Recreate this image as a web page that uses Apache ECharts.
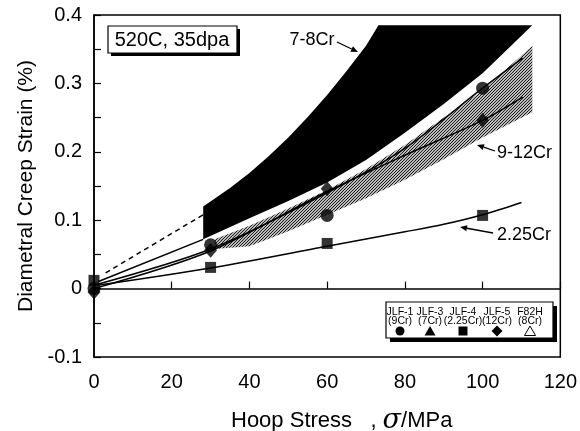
<!DOCTYPE html>
<html>
<head>
<meta charset="utf-8">
<script src="https://cdn.jsdelivr.net/npm/echarts@6/dist/echarts.min.js"></script>
<style>
  html, body { margin: 0; padding: 0; background: #fff; }
  #chart { width: 580px; height: 431px; }
</style>
</head>
<body>
<div id="chart"></div>
<script>
// Axis ranges and ticks
const xTicks = [0, 20, 40, 60, 80, 100, 120];
const yTicks = [-0.1, 0, 0.1, 0.2, 0.3, 0.4];

// Measured creep strain (%) vs hoop stress (MPa)
const jlf1_9Cr   = [[0, 0.0], [30, 0.064], [60, 0.107], [100, 0.293]];
const jlf5_12Cr  = [[0, -0.005], [30, 0.056], [60, 0.146], [100, 0.246]];
const jlf4_225Cr = [[0, 0.012], [30, 0.031], [60, 0.066], [100, 0.107]];

// Fitted trend curves
const fit9Cr   = [[0, 0.005], [30, 0.058], [60, 0.14], [80, 0.205], [100, 0.293], [110.3, 0.337]];
const fit12Cr  = [[0, 0.0], [30, 0.055], [60, 0.142], [80, 0.195], [100, 0.246], [110.3, 0.28]];
const fit225Cr = [[0, 0.004], [30, 0.03], [60, 0.062], [80, 0.083], [90, 0.094], [100, 0.108], [110, 0.126]];
const lead78Solid  = [[1, 0.01], [28.1, 0.072]];
const lead78Dashed = [[3, 0.023], [28.1, 0.108]];

// 7-8Cr scatter band (solid black)
const band78Upper = [[28.1, 0.12], [35, 0.147], [40, 0.169], [45, 0.194], [50, 0.221], [55, 0.251],
                     [60, 0.283], [65, 0.318], [70, 0.355], [73.2, 0.385], [112.8, 0.385]];
const band78Lower = [[28.1, 0.072], [40, 0.103], [50, 0.128], [60, 0.155], [70, 0.188],
                     [80, 0.228], [90, 0.27], [100, 0.315], [112.8, 0.385]];

// 9-12Cr scatter band (hatched)
const band912Upper = [[31, 0.072], [40, 0.092], [50, 0.117], [60, 0.144], [70, 0.175],
                      [80, 0.21], [90, 0.25], [100, 0.29], [112.8, 0.355]];
const band912Lower = [[31, 0.058], [40, 0.062], [50, 0.084], [60, 0.108], [70, 0.132],
                      [80, 0.159], [90, 0.189], [100, 0.221], [112.8, 0.258]];

// Legend entries
const legendNames  = ['JLF-1', 'JLF-3', 'JLF-4', 'JLF-5', 'F82H'];
const legendAlloys = ['(9Cr)', '(7Cr)', '(2.25Cr)', '(12Cr)', '(8Cr)'];

const FONT = '"Liberation Sans", Arial, Helvetica, sans-serif';

// Hatch texture for the 9-12Cr band
function makeHatch() {
  const c = document.createElement('canvas');
  c.width = 3; c.height = 3;
  const g = c.getContext('2d');
  g.fillStyle = '#fff';
  g.fillRect(0, 0, 3, 3);
  g.strokeStyle = '#111';
  g.lineWidth = 1.1;
  g.beginPath();
  g.moveTo(-1, 4); g.lineTo(4, -1);
  g.moveTo(-1, 1); g.lineTo(1, -1);
  g.moveTo(2, 4); g.lineTo(4, 2);
  g.stroke();
  return c;
}
const hatchPattern = { image: makeHatch(), repeat: 'repeat' };

function bandRender(upper, lower, fill) {
  return function (params, api) {
    const pts = upper.map(p => api.coord(p))
      .concat(lower.slice().reverse().map(p => api.coord(p)));
    return {
      type: 'polygon',
      shape: { points: pts },
      style: { fill: fill, stroke: null }
    };
  };
}

function lineSeries(data, dashed) {
  return {
    type: 'line', data: data, smooth: 0.3, symbol: 'none', silent: true,
    lineStyle: { color: '#000', width: 1.5, type: dashed ? [5, 4] : 'solid' },
    z: 3
  };
}

function arrow(tail, tip) {
  const dx = tip[0] - tail[0], dy = tip[1] - tail[1];
  const len = Math.hypot(dx, dy), ux = dx / len, uy = dy / len;
  const hl = 7, hw = 3;
  const bx = tip[0] - ux * hl, by = tip[1] - uy * hl;
  return [
    { type: 'line', shape: { x1: tail[0], y1: tail[1], x2: bx, y2: by },
      style: { stroke: '#000', lineWidth: 1.3 }, z: 20 },
    { type: 'polygon', shape: { points: [tip, [bx - uy * hw, by + ux * hw], [bx + uy * hw, by - ux * hw]] },
      style: { fill: '#000' }, z: 20 }
  ];
}

// Legend box drawn as graphic elements
const legendX = [400, 430, 463, 497, 530];
const legendGraphics = [
  { type: 'rect', shape: { x: 390, y: 306, width: 167, height: 36 }, style: { fill: '#000' }, z: 30 },
  { type: 'rect', shape: { x: 386, y: 302, width: 167, height: 36 },
    style: { fill: '#fff', stroke: '#000', lineWidth: 1.2 }, z: 31 }
];
legendNames.forEach((n, i) => {
  legendGraphics.push({ type: 'text', x: legendX[i], y: 312, z: 32,
    style: { text: n, font: '10.5px ' + FONT, fill: '#000', align: 'center', verticalAlign: 'middle' } });
  legendGraphics.push({ type: 'text', x: legendX[i], y: 321, z: 32,
    style: { text: legendAlloys[i], font: '10.5px ' + FONT, fill: '#000', align: 'center', verticalAlign: 'middle' } });
});
const my = 331;
legendGraphics.push(
  { type: 'circle', shape: { cx: legendX[0], cy: my, r: 4.5 }, style: { fill: '#000' }, z: 32 },
  { type: 'polygon', shape: { points: [[legendX[1], my - 5], [legendX[1] - 5.5, my + 4.5], [legendX[1] + 5.5, my + 4.5]] }, style: { fill: '#000' }, z: 32 },
  { type: 'rect', shape: { x: legendX[2] - 4.5, y: my - 4.5, width: 9, height: 9 }, style: { fill: '#000' }, z: 32 },
  { type: 'polygon', shape: { points: [[legendX[3], my - 5.5], [legendX[3] + 5.5, my], [legendX[3], my + 5.5], [legendX[3] - 5.5, my]] }, style: { fill: '#000' }, z: 32 },
  { type: 'polygon', shape: { points: [[legendX[4], my - 5], [legendX[4] - 5.5, my + 4.5], [legendX[4] + 5.5, my + 4.5]] }, style: { fill: '#fff', stroke: '#000', lineWidth: 1 }, z: 32 }
);

const chart = echarts.init(document.getElementById('chart'), null, { renderer: 'canvas' });

const option = {
  animation: false,
  backgroundColor: '#fff',
  grid: { left: 94, right: 16, top: 15, bottom: 74, show: true, borderColor: '#000', borderWidth: 1.5 },
  xAxis: {
    type: 'value', min: xTicks[0], max: xTicks[xTicks.length - 1], interval: 20,
    axisLine: { lineStyle: { color: '#000', width: 1.5 } },
    axisTick: { inside: true, length: 7, lineStyle: { color: '#000', width: 1.2 } },
    splitLine: { show: false },
    axisLabel: { color: '#000', fontSize: 20, fontFamily: FONT, margin: 15 }
  },
  yAxis: {
    type: 'value', min: yTicks[0], max: yTicks[yTicks.length - 1], interval: 0.1,
    axisLine: { lineStyle: { color: '#000', width: 1.5 } },
    axisTick: { inside: true, length: 7, lineStyle: { color: '#000', width: 1.2 } },
    minorTick: { show: true, splitNumber: 2, length: 7, lineStyle: { color: '#000', width: 1.2 } },
    splitLine: { show: false },
    axisLabel: { color: '#000', fontSize: 20, fontFamily: FONT, margin: 12,
      formatter: v => (Math.abs(v) < 1e-9 ? '0' : v.toFixed(1)) },
    name: 'Diametral Creep Strain (%)', nameLocation: 'middle', nameGap: 51,
    nameTextStyle: { color: '#000', fontSize: 21, fontFamily: FONT }
  },
  series: [
    { type: 'custom', data: [[0, 0]], renderItem: bandRender(band912Upper, band912Lower, hatchPattern), z: 1, silent: true },
    { type: 'custom', data: [[0, 0]], renderItem: bandRender(band78Upper, band78Lower, '#000'), z: 2, silent: true },
    lineSeries(fit9Cr), lineSeries(fit12Cr), lineSeries(fit225Cr),
    lineSeries(lead78Solid), lineSeries(lead78Dashed, true),
    { type: 'scatter', data: jlf1_9Cr, symbol: 'circle', symbolSize: 13, itemStyle: { color: '#000' }, z: 5 },
    { type: 'scatter', data: jlf5_12Cr, symbol: 'diamond', symbolSize: [13, 15], itemStyle: { color: '#000' }, z: 5 },
    { type: 'scatter', data: jlf4_225Cr, symbol: 'rect', symbolSize: 11, itemStyle: { color: '#000' }, z: 5 }
  ],
  graphic: [
    // x-axis title
    { type: 'text', x: 231, y: 421, z: 12,
      style: {
        text: '{a|Hoop Stress}{b|   , }{s|σ}{a|/MPa}',
        verticalAlign: 'middle', align: 'left',
        rich: {
          a: { font: '22px ' + FONT, fill: '#000' },
          b: { font: '22px ' + FONT, fill: '#000' },
          s: { font: 'italic 27px "DejaVu Serif", "Liberation Serif", serif', fill: '#000' }
        }
      } },
    { type: 'rect', shape: { x: 111, y: 29, width: 129, height: 27 }, style: { fill: '#000' }, z: 10 },
    { type: 'rect', shape: { x: 108, y: 26, width: 129, height: 27 }, style: { fill: '#fff', stroke: '#000', lineWidth: 1.2 }, z: 11 },
    { type: 'text', x: 172, y: 40, z: 12,
      style: { text: '520C, 35dpa', font: '20px ' + FONT, fill: '#000', align: 'center', verticalAlign: 'middle' } },
    { type: 'text', x: 312, y: 40, z: 12,
      style: { text: '7-8Cr', font: '18px ' + FONT, fill: '#000', align: 'center', verticalAlign: 'middle' } },
    { type: 'text', x: 497, y: 153, z: 12,
      style: { text: '9-12Cr', font: '18px ' + FONT, fill: '#000', align: 'left', verticalAlign: 'middle' } },
    { type: 'text', x: 497, y: 235, z: 12,
      style: { text: '2.25Cr', font: '18px ' + FONT, fill: '#000', align: 'left', verticalAlign: 'middle' } },
    ...arrow([337, 42], [358, 52]),
    ...arrow([495, 151], [477, 145]),
    ...arrow([493, 233], [460, 227]),
    ...legendGraphics
  ]
};

chart.setOption(option);
</script>
</body>
</html>
